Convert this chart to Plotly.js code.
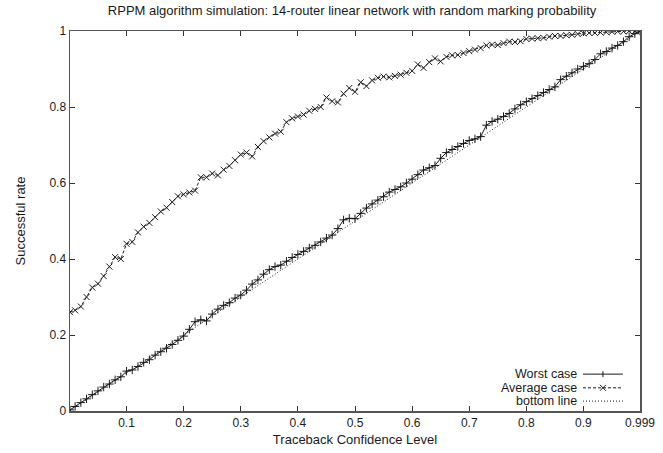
<!DOCTYPE html>
<html>
<head>
<meta charset="utf-8">
<script src="https://cdn.plot.ly/plotly-3.0.1.min.js"></script>
<style>html,body{margin:0;padding:0;background:#fff;}#chart{width:663px;height:453px;}</style>
</head>
<body>
<div id="chart"></div>
<script>
const xLevels = [0.001,0.01,0.02,0.03,0.04,0.05,0.06,0.07,0.08,0.09,
  0.10,0.11,0.12,0.13,0.14,0.15,0.16,0.17,0.18,0.19,
  0.20,0.21,0.22,0.23,0.24,0.25,0.26,0.27,0.28,0.29,
  0.30,0.31,0.32,0.33,0.34,0.35,0.36,0.37,0.38,0.39,
  0.40,0.41,0.42,0.43,0.44,0.45,0.46,0.47,0.48,0.49,
  0.50,0.51,0.52,0.53,0.54,0.55,0.56,0.57,0.58,0.59,
  0.60,0.61,0.62,0.63,0.64,0.65,0.66,0.67,0.68,0.69,
  0.70,0.71,0.72,0.73,0.74,0.75,0.76,0.77,0.78,0.79,
  0.80,0.81,0.82,0.83,0.84,0.85,0.86,0.87,0.88,0.89,
  0.90,0.91,0.92,0.93,0.94,0.95,0.96,0.97,0.98,0.99,0.999];

const worstCase = [0.003,0.012,0.022,0.032,0.043,0.053,0.063,0.071,0.082,0.090,
  0.105,0.108,0.117,0.128,0.135,0.147,0.156,0.165,0.175,0.186,
  0.197,0.215,0.235,0.240,0.237,0.255,0.268,0.278,0.285,0.297,
  0.305,0.318,0.334,0.345,0.360,0.372,0.380,0.384,0.394,0.404,
  0.412,0.420,0.429,0.436,0.445,0.455,0.463,0.480,0.503,0.507,
  0.506,0.520,0.534,0.545,0.555,0.564,0.576,0.583,0.590,0.600,
  0.610,0.622,0.634,0.640,0.646,0.665,0.680,0.688,0.696,0.704,
  0.712,0.716,0.722,0.752,0.762,0.768,0.775,0.783,0.795,0.806,
  0.814,0.822,0.830,0.838,0.846,0.853,0.872,0.881,0.890,0.900,
  0.907,0.914,0.925,0.940,0.946,0.955,0.962,0.972,0.985,0.993,1.0];

const averageCase = [0.260,0.265,0.275,0.300,0.325,0.335,0.355,0.380,0.405,0.400,
  0.440,0.445,0.470,0.485,0.495,0.510,0.525,0.535,0.550,0.565,
  0.570,0.575,0.580,0.615,0.615,0.625,0.620,0.635,0.645,0.660,
  0.675,0.680,0.670,0.695,0.710,0.720,0.730,0.735,0.760,0.770,
  0.775,0.780,0.790,0.795,0.800,0.825,0.815,0.812,0.835,0.850,
  0.840,0.865,0.855,0.870,0.877,0.880,0.878,0.882,0.885,0.890,
  0.895,0.912,0.903,0.918,0.928,0.920,0.932,0.936,0.937,0.942,
  0.947,0.951,0.955,0.962,0.964,0.963,0.968,0.972,0.971,0.973,
  0.979,0.980,0.981,0.982,0.985,0.987,0.987,0.989,0.990,0.992,
  0.994,0.995,0.995,0.996,0.997,0.998,0.999,0.999,1.0,1.0,1.0];

const bottomX = [0.001, 0.999];
const bottomY = [0.001, 0.999];

const seriesNames = ['Worst case', 'Average case', 'bottom line'];

const xTickVals = [0.1,0.2,0.3,0.4,0.5,0.6,0.7,0.8,0.9,0.999];
const xTickText = ['0.1','0.2','0.3','0.4','0.5','0.6','0.7','0.8','0.9','0.999'];
const yTickVals = [0,0.2,0.4,0.6,0.8,1];
const yTickText = ['0','0.2','0.4','0.6','0.8','1'];

const ink = '#1a1a1a';
const fam = 'Liberation Sans, Arial, sans-serif';
const font = {family: fam, size: 12, color: ink};
const dashAvg = '3px,2px';
const dashBottom = '1px,2px';

const traces = [
  {x: xLevels, y: worstCase, name: seriesNames[0], type: 'scatter', mode: 'lines+markers',
   line: {color: ink, width: 1},
   marker: {symbol: 'cross-thin', size: 6, color: ink, line: {color: ink, width: 1}}},
  {x: xLevels, y: averageCase, name: seriesNames[1], type: 'scatter', mode: 'lines+markers',
   line: {color: ink, width: 1, dash: dashAvg},
   marker: {symbol: 'x-thin', size: 6, color: ink, line: {color: ink, width: 1}}},
  {x: bottomX, y: bottomY, name: seriesNames[2], type: 'scatter', mode: 'lines',
   line: {color: ink, width: 1, dash: dashBottom}}
];

// gnuplot-style key: text right-aligned, sample to its right
const keyTextX = 0.893, keySampleX0 = 0.900, keySampleX1 = 0.970, keyMarkX = 0.935;
const keyRowsY = [0.097, 0.061, 0.026];
const keyDashes = ['solid', dashAvg, dashBottom];

const annotations = seriesNames.map((n, i) => ({
  text: n, xref: 'paper', yref: 'paper', x: keyTextX, y: keyRowsY[i],
  xanchor: 'right', yanchor: 'middle', showarrow: false,
  font: {family: fam, size: 12.5, color: ink}
}));

const shapes = [];
seriesNames.forEach((n, i) => {
  shapes.push({type: 'line', xref: 'paper', yref: 'paper', x0: keySampleX0, x1: keySampleX1,
    y0: keyRowsY[i], y1: keyRowsY[i], line: {color: ink, width: 1, dash: keyDashes[i]}});
});
// "+" glyph on Worst case sample
shapes.push({type: 'line', xref: 'paper', yref: 'paper', xsizemode: 'pixel', ysizemode: 'pixel',
  xanchor: keyMarkX, yanchor: keyRowsY[0], x0: 0, x1: 0, y0: -3, y1: 3, line: {color: ink, width: 1}});
// "x" glyph on Average case sample
shapes.push({type: 'line', xref: 'paper', yref: 'paper', xsizemode: 'pixel', ysizemode: 'pixel',
  xanchor: keyMarkX, yanchor: keyRowsY[1], x0: -3, x1: 3, y0: -3, y1: 3, line: {color: ink, width: 1}});
shapes.push({type: 'line', xref: 'paper', yref: 'paper', xsizemode: 'pixel', ysizemode: 'pixel',
  xanchor: keyMarkX, yanchor: keyRowsY[1], x0: -3, x1: 3, y0: 3, y1: -3, line: {color: ink, width: 1}});

const axisCommon = {
  showgrid: false, zeroline: false, showline: true, mirror: 'allticks',
  linecolor: '#555', linewidth: 1.5, ticks: 'inside', ticklen: 5, tickwidth: 1,
  tickcolor: '#333', tickfont: font
};

const layout = {
  width: 663, height: 453,
  margin: {l: 70, r: 23, t: 31, b: 42},
  paper_bgcolor: '#fff', plot_bgcolor: '#fff',
  font: font,
  title: {text: 'RPPM algorithm simulation: 14-router linear network with random marking probability',
          font: {family: fam, size: 13, color: ink}, x: 0.531, xanchor: 'center', y: 0.988, yanchor: 'top'},
  xaxis: Object.assign({}, axisCommon, {
    range: [0.001, 0.999], tickmode: 'array', tickvals: xTickVals, ticktext: xTickText,
    title: {text: 'Traceback Confidence Level', font: {family: fam, size: 13, color: ink}, standoff: 6}
  }),
  yaxis: Object.assign({}, axisCommon, {
    range: [0, 1], tickmode: 'array', tickvals: yTickVals, ticktext: yTickText,
    title: {text: 'Successful rate', font: {family: fam, size: 13, color: ink}, standoff: 21}
  }),
  showlegend: false,
  annotations: annotations,
  shapes: shapes
};

Plotly.newPlot('chart', traces, layout, {displayModeBar: false, staticPlot: true});
</script>
</body>
</html>
